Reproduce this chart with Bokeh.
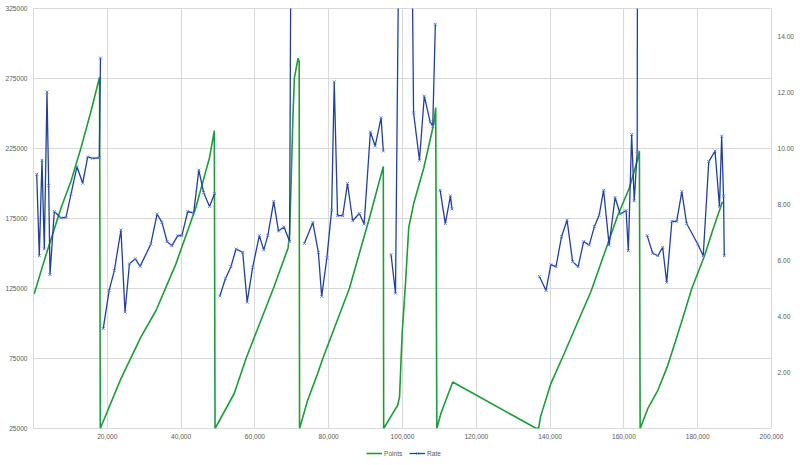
import math
from bokeh.plotting import figure
from bokeh.layouts import column
from bokeh.models import (Range1d, LinearAxis, FixedTicker, NumeralTickFormatter,
                          Legend, LegendItem, ColumnDataSource)
from bokeh.embed import file_html
from bokeh.resources import INLINE

NaN = float("nan")

# ---- data ----
points_x = [200, 2900, 5200, 7500, 10200, 12900, 15600, 17900, 18100,
            23700, 29100, 33200, 38600, 44000, 47700, 49000, 49200,
            54400, 57600, 61300, 65000, 69000, 69400, 69800, 70300, 70700, 71700, 72000, 72100,
            74300, 77000, 78400, 82000, 85600, 91000, 94800, 94900,
            97600, 98700, 99200, 99900, 100800, 101700, 103000, 105800, 108500, 109000, 109300,
            110400, 113100, 113600, 136300, 136900, 137400, 140200, 143800, 147400, 151100,
            154700, 158300, 161500, 163700, 164200, 164400,
            166500, 169200, 171900, 175500, 178400, 181800, 184000, 186700]
points_y = [121200, 144900, 164000, 182900, 201900, 225700, 251800, 276000, 25000,
            60600, 90300, 109300, 142600, 182900, 218500, 237700, 25000,
            50000, 75000, 100000, 125000, 154000, 165000, 199600, 247000, 275500, 289500, 287000, 25000,
            45200, 64200, 75000, 100000, 125000, 175000, 212100, 25000,
            36900, 41600, 47500, 92700, 128300, 168700, 185300, 211400, 243000, 254200, 25000,
            35700, 54600, 58200, 25000, 25500, 33300, 57100, 78400, 100500, 123000,
            150000, 177000, 197000, 217000, 223300, 25000,
            39300, 52300, 70100, 100000, 125000, 148000, 166000, 187000]

rate_x = [870, 1570, 2300, 2930, 3660, 4120, 4470, 5640, 7450, 8810, 10160, 11790, 13330,
          14690, 16040, 17830, 18150, None,
          18900, 20500, 21900, 23700, 24800, 26000, 27600, 28900, 31800, 33500, 34800,
          36200, 37500, 39100, 40200, 41800, 43400, 44800, 46100, 47700, 49100, None,
          50500, 52000, 53500, 54900, 56700, 57900, 59400, 61200, 62400, 63500, 65100,
          66400, 67900, 69400, 70500, None,
          73400, 75700, 77200, 78100, 79500, 80800, 81500, 82400, 83800, 85100, 86500,
          88300, 89600, 91300, 92600, 94200, 94800, None,
          96900, 98100, 100800, 103000, 104600, 105900, 107500, 108200, 108900, None,
          110200, 111600, 113000, 113400, None,
          137100, 138900, 140200, 141600, 143100, 144600, 146100, 147600, 149100, 150600,
          152000, 153300, 154500, 156000, 157600, 159000, 160600, 161200, 162100, 162800,
          163600, 164300, None,
          166300, 167800, 169200, 170500, 171600, 173000, 174300, 175700, 177000, 180000,
          181500, 183000, 184700, 185900, 186500, 187000, 187200]
rate_y = [9.08, 6.17, 9.58, 6.41, 12.02, 8.67, 5.50, 7.75, 7.52, 7.54, 8.37, 9.35, 8.76,
          9.70, 9.65, 9.67, 13.23, None,
          3.57, 4.93, 5.64, 7.09, 4.16, 5.88, 6.06, 5.79, 6.59, 7.66, 7.36,
          6.68, 6.53, 6.89, 6.89, 7.75, 7.69, 9.23, 8.43, 7.93, 8.39, None,
          4.73, 5.35, 5.78, 6.41, 6.29, 4.51, 5.76, 6.89, 6.38, 6.89, 8.11,
          7.05, 7.20, 6.68, 40.0, None,
          6.61, 7.36, 6.29, 4.72, 6.09, 7.80, 12.38, 7.60, 7.60, 8.75, 7.42,
          7.68, 7.30, 10.59, 10.09, 11.10, 9.91, None,
          6.21, 4.83, 42.5, 11.27, 9.58, 11.87, 10.95, 10.80, 14.44, None,
          8.51, 7.32, 8.31, 7.84, None,
          5.43, 4.93, 5.85, 5.78, 6.85, 7.44, 5.96, 5.78, 6.68, 6.55,
          7.21, 7.62, 8.51, 6.55, 8.25, 7.66, 7.78, 6.35, 10.50, 8.13,
          9.90, 80.0, None,
          6.89, 6.26, 6.17, 6.47, 5.22, 7.40, 7.40, 8.46, 7.32, 6.59,
          6.17, 9.53, 9.91, 7.92, 10.44, 8.30, 6.17]

x_ticks = [20000, 40000, 60000, 80000, 100000, 120000, 140000, 160000, 180000, 200000]
left_ticks = [25000, 75000, 125000, 175000, 225000, 275000, 325000]
right_ticks = [2, 4, 6, 8, 10, 12, 14]
series_names = ["Points", "Rate"]

GREEN = "#1f9a3c"
BLUE_LINE = "#22409a"
BLUE_MARK = "#5a7fd4"
GRID = "#d9d9d9"
TXT = "#595959"
FONT = "Liberation Sans"
FS = "6.6px"

rx = [NaN if v is None else v for v in rate_x]
ry = [NaN if v is None else v for v in rate_y]

p = figure(width=800, height=441, output_backend="svg", toolbar_location=None,
           x_range=Range1d(0, 200000), y_range=Range1d(25000, 325000),
           min_border_top=8, min_border_left=33, min_border_right=29, min_border_bottom=13)
p.extra_y_ranges = {"rate": Range1d(0, 15)}
p.outline_line_color = GRID
p.background_fill_color = "white"
p.border_fill_color = "white"


def style_axis(ax, standoff):
    ax.axis_line_color = None
    ax.major_tick_line_color = None
    ax.minor_tick_line_color = None
    ax.major_tick_out = 0
    ax.major_tick_in = 0
    ax.minor_tick_out = 0
    ax.minor_tick_in = 0
    ax.major_label_text_font = FONT
    ax.major_label_text_font_size = FS
    ax.major_label_text_color = TXT
    ax.major_label_standoff = standoff


style_axis(p.xaxis[0], 5)
style_axis(p.yaxis[0], 6)
p.xaxis[0].ticker = FixedTicker(ticks=x_ticks)
p.xaxis[0].formatter = NumeralTickFormatter(format="0,0")
p.yaxis[0].ticker = FixedTicker(ticks=left_ticks)
p.yaxis[0].formatter = NumeralTickFormatter(format="0")

rax = LinearAxis(y_range_name="rate", ticker=FixedTicker(ticks=right_ticks),
                 formatter=NumeralTickFormatter(format="0.00"))
style_axis(rax, 6)
p.add_layout(rax, "right")

p.xgrid.ticker = FixedTicker(ticks=x_ticks)
p.ygrid.ticker = FixedTicker(ticks=left_ticks)
p.xgrid.grid_line_color = GRID
p.ygrid.grid_line_color = GRID

src_pts = ColumnDataSource(dict(x=points_x, y=points_y))
src = ColumnDataSource(dict(x=rx, y=ry))
p.line("x", "y", source=src_pts, line_color=GREEN, line_width=1.6)
p.line("x", "y", source=src, y_range_name="rate", line_color=BLUE_LINE, line_width=1.3)
p.scatter("x", "y", source=src, y_range_name="rate", marker="x", size=4,
          line_color=BLUE_MARK, line_width=1)

# legend strip below the chart (same series, drawn out of this strip's view)
q = figure(width=800, height=24, output_backend="svg", toolbar_location=None,
           x_range=Range1d(-2, -1), y_range=Range1d(-2, -1),
           x_axis_type=None, y_axis_type=None,
           min_border_top=0, min_border_left=0, min_border_right=0, min_border_bottom=0)
q.outline_line_color = None
q.xgrid.visible = False
q.ygrid.visible = False
q.background_fill_color = "white"
q.border_fill_color = "white"
lg = q.line("x", "y", source=src_pts, line_color=GREEN, line_width=1.6)
lb = q.line("x", "y", source=src, line_color=BLUE_LINE, line_width=1.3)
lm = q.scatter("x", "y", source=src, marker="x", size=4, line_color=BLUE_MARK, line_width=1)

legend = Legend(items=[LegendItem(label=series_names[0], renderers=[lg]),
                       LegendItem(label=series_names[1], renderers=[lb, lm])],
                location=(333, 8), orientation="horizontal",
                padding=0, margin=0, spacing=5, glyph_width=16, glyph_height=8,
                label_height=8, label_standoff=2, border_line_color=None,
                background_fill_alpha=0,
                label_text_font=FONT, label_text_font_size=FS, label_text_color=TXT)
q.add_layout(legend, "center")

layout = column(p, q, spacing=0)
open("out.html", "w").write(file_html(layout, INLINE))
